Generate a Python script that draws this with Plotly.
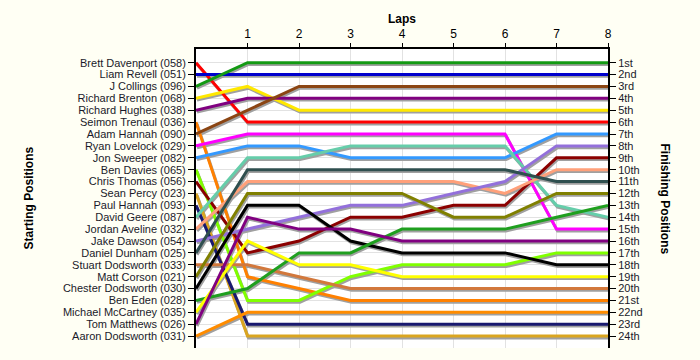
import plotly.graph_objects as go

laps = [0, 1, 2, 3, 4, 5, 6, 7, 8]
lap_labels = ["1", "2", "3", "4", "5", "6", "7", "8"]

drivers = [
    "Brett Davenport (058)", "Liam Revell (051)", "J Collings (096)",
    "Richard Brenton (068)", "Richard Hughes (038)", "Seimon Trenaul (036)",
    "Adam Hannah (090)", "Ryan Lovelock (029)", "Jon Sweeper (082)",
    "Ben Davies (065)", "Chris Thomas (056)", "Sean Percy (023)",
    "Paul Hannah (093)", "David Geere (087)", "Jordan Aveline (032)",
    "Jake Dawson (054)", "Daniel Dunham (025)", "Stuart Dodsworth (033)",
    "Matt Corson (021)", "Chester Dodsworth (030)", "Ben Eden (028)",
    "Michael McCartney (035)", "Tom Matthews (026)", "Aaron Dodsworth (031)",
]

finish_labels = ["1st", "2nd", "3rd", "4th", "5th", "6th", "7th", "8th", "9th",
                 "10th", "11th", "12th", "13th", "14th", "15th", "16th", "17th",
                 "18th", "19th", "20th", "21st", "22nd", "23rd", "24th"]

# positions per lap (lap 0 = start)
brett = [1, 6, 6, 6, 6, 6, 6, 6, 6]
liam = [2, 2, 2, 2, 2, 2, 2, 2, 2]
collings = [3, 1, 1, 1, 1, 1, 1, 1, 1]
brenton = [4, 3, 5, 5, 5, 5, 5, 5, 5]
hughes = [5, 4, 4, 4, 4, 4, 4, 4, 4]
seimon = [6, 19, 20, 21, 21, 21, 21, 21, 21]
adam = [7, 5, 3, 3, 3, 3, 3, 3, 3]
ryan = [8, 7, 7, 7, 7, 7, 7, 15, 15]
jon = [9, 8, 8, 9, 9, 9, 9, 7, 7]
ben_davies = [10, 21, 21, 19, 18, 18, 18, 17, 17]
chris = [11, 17, 16, 14, 14, 13, 13, 9, 9]
sean = [12, 24, 24, 24, 24, 24, 24, 24, 24]
paul = [13, 23, 23, 23, 23, 23, 23, 23, 23]
david = [14, 9, 9, 8, 8, 8, 8, 13, 14]
jordan = [15, 11, 11, 11, 11, 11, 12, 10, 10]
jake = [16, 15, 14, 13, 13, 12, 11, 8, 8]
daniel = [17, 10, 10, 10, 10, 10, 10, 11, 11]
stuart = [18, 18, 19, 20, 20, 20, 20, 20, 20]
matt = [19, 12, 12, 12, 12, 14, 14, 12, 12]
chester = [20, 13, 13, 16, 17, 17, 17, 18, 18]
ben_eden = [21, 20, 17, 17, 15, 15, 15, 14, 13]
michael = [22, 16, 18, 18, 19, 19, 19, 19, 19]
tom = [23, 14, 15, 15, 16, 16, 16, 16, 16]
aaron = [24, 22, 22, 22, 22, 22, 22, 22, 22]

positions = [brett, liam, collings, brenton, hughes, seimon, adam, ryan, jon,
             ben_davies, chris, sean, paul, david, jordan, jake, daniel, stuart,
             matt, chester, ben_eden, michael, tom, aaron]

colors = ["#FF0000", "#0000CD", "#139A13", "#FFE800", "#800080", "#FF8000",
          "#8B4513", "#FF00FF", "#3399FF", "#80FF00", "#8B0000", "#DAA520",
          "#191970", "#66CDAA", "#FFA07A", "#9370DB", "#2F4F4F", "#D2783C",
          "#808000", "#000000", "#1F9F1F", "#FFFF00", "#800080", "#FF8C00"]

fig = go.Figure()

# shadows on the (hidden, slightly shifted) base axes
for pos in positions:
    fig.add_trace(go.Scatter(x=laps, y=pos, mode="lines", xaxis="x", yaxis="y",
                             line=dict(color="#A0A0A0", width=3),
                             showlegend=False, hoverinfo="skip"))
# main lines on visible overlay axes
for name, pos, c in zip(drivers, positions, colors):
    fig.add_trace(go.Scatter(x=laps, y=pos, mode="lines", name=name,
                             xaxis="x2", yaxis="y2",
                             line=dict(color=c, width=3), showlegend=False))

# invisible trace to activate right axis
fig.add_trace(go.Scatter(x=[0], y=[1], xaxis="x2", yaxis="y3", mode="markers",
                         marker=dict(opacity=0), showlegend=False, hoverinfo="skip"))

font = dict(family="Liberation Sans, Arial", size=11, color="#1A1A2A")
yr = [25, -0.15]
shift = 0.15
xshift = 0.02
title_font = dict(family="Liberation Sans, Arial", size=12, color="black")

fig.update_layout(
    width=700, height=360,
    margin=dict(l=196, r=92, t=49, b=12, autoexpand=False),
    paper_bgcolor="#FFFFF4", plot_bgcolor="#FFFFFF",
    font=font,
    xaxis=dict(range=[-xshift, 8 - xshift], visible=False, automargin=False),
    yaxis=dict(range=[yr[0] - shift, yr[1] - shift], visible=False, automargin=False),
    xaxis2=dict(overlaying="x", side="top", range=[0, 8], tickvals=laps[1:], ticktext=lap_labels,
                showline=True, linecolor="black", linewidth=2,
                ticks="outside", ticklen=4, tickcolor="black",
                showgrid=True, gridcolor="#E2E2E2", gridwidth=1, zeroline=False,
                automargin=False,
                tickfont=dict(family="Liberation Sans, Arial", size=12, color="black")),
    yaxis2=dict(overlaying="y", side="left", range=yr, tickvals=list(range(1, 25)), ticktext=drivers,
                showline=True, linecolor="black", linewidth=2,
                ticks="outside", ticklen=6, tickcolor="black", automargin=False,
                showgrid=True, gridcolor="#E2E2E2", gridwidth=1, zeroline=False),
    yaxis3=dict(overlaying="y", side="right", range=yr,
                tickvals=list(range(1, 25)), ticktext=finish_labels,
                showline=True, linecolor="black", linewidth=2,
                ticks="outside", ticklen=6, tickcolor="black", automargin=False,
                showgrid=False, zeroline=False),
    annotations=[
        dict(text="<b>Laps</b>", xref="paper", yref="paper", x=0.5, y=1.102,
             xanchor="center", yanchor="middle", showarrow=False, font=title_font),
        dict(text="<b>Starting Positions</b>", xref="paper", yref="paper",
             x=(28 - 196) / 412, y=0.5, textangle=-90, xanchor="center", yanchor="middle",
             showarrow=False, font=title_font),
        dict(text="<b>Finishing Positions</b>", xref="paper", yref="paper",
             x=(665 - 196) / 412, y=0.5, textangle=90, xanchor="center", yanchor="middle",
             showarrow=False, font=title_font),
    ],
)

fig.write_html("out.html", config={"displayModeBar": False},
               post_script="document.body.style.margin='0px';document.body.style.background='#FFFFF4';")
